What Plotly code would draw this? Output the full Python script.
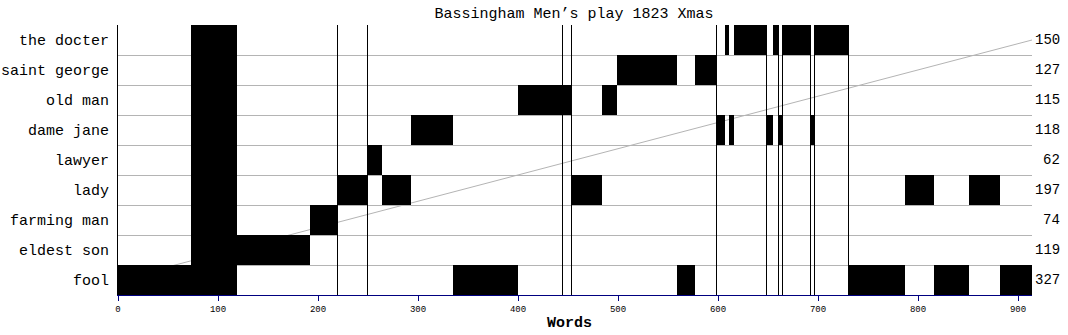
import plotly.graph_objects as go
import numpy as np

# Characters, bottom row first
characters = ["fool", "eldest son", "farming man", "lady", "lawyer",
              "dame jane", "old man", "saint george", "the docter"]
# Total words spoken per character (right-hand labels)
word_totals = [327, 119, 74, 197, 62, 118, 115, 127, 150]

# Sequence of speeches (speaker, length in words); "ALL" = everyone together
speech_speaker = ["fool", "ALL", "eldest son", "farming man", "lady", "lawyer",
                  "lady", "dame jane", "fool", "old man", "lady", "old man",
                  "saint george", "fool", "saint george", "dame jane", "the docter",
                  "dame jane", "the docter", "dame jane", "the docter", "dame jane",
                  "the docter", "dame jane", "the docter", "fool", "lady", "fool",
                  "lady", "fool"]
speech_words = [73, 46, 73, 27, 30, 15, 29, 42, 65, 53, 31, 15, 60, 18, 21, 9, 4,
                5, 32, 7, 5, 4, 28, 4, 34, 57, 29, 35, 31, 32]

# Scene breaks (word positions)
scene_breaks = [219, 249, 444, 453, 598, 648, 660, 664, 692, 696, 730]

title = "Bassingham Men\u2019s play 1823 Xmas"
FONT = "Liberation Mono"

starts = np.concatenate([[0], np.cumsum(speech_words)[:-1]])
total_words = int(np.sum(speech_words))

bar_y, bar_x, bar_base = [], [], []
for spk, st, ln in zip(speech_speaker, starts, speech_words):
    rows = range(len(characters)) if spk == "ALL" else [characters.index(spk)]
    for r in rows:
        bar_y.append(r)
        bar_x.append(ln)
        bar_base.append(st)

fig = go.Figure()

fig.add_trace(go.Bar(orientation="h", y=bar_y, x=bar_x, base=bar_base, width=1,
                     marker=dict(color="black", line=dict(width=0)),
                     hoverinfo="skip", showlegend=False))

# scene-break lines (centred in the word column so they render as crisp 1px lines)
vx, vy = [], []
for b in scene_breaks:
    vx += [b + 0.5, b + 0.5, None]
    vy += [-0.5, len(characters) - 0.5, None]
fig.add_trace(go.Scatter(x=vx, y=vy, mode="lines",
                         line=dict(color="black", width=1),
                         hoverinfo="skip", showlegend=False))

# diagonal reference line, under the bars
fig.add_shape(type="line", xref="x", yref="y", x0=0, y0=0,
              x1=total_words, y1=len(characters) - 1, layer="below",
              line=dict(color="#b4b4b4", width=1))

annotations = []
for i, t in enumerate(word_totals):
    annotations.append(dict(xref="paper", x=1, xanchor="right", xshift=30,
                            yref="y", y=i, yanchor="middle", text=str(t),
                            showarrow=False,
                            font=dict(family=FONT, size=14, color="black")))
annotations.append(dict(xref="paper", x=(569 - 118) / 914, xanchor="center",
                        yref="paper", y=0, yshift=-28, yanchor="middle",
                        text="<b>Words</b>", showarrow=False,
                        font=dict(family=FONT, size=15, color="black")))

fig.update_layout(
    width=1068, height=335,
    margin=dict(l=118, r=36, t=25, b=40, pad=0, autoexpand=False),
    paper_bgcolor="white", plot_bgcolor="white",
    title=dict(text=title, x=(574) / 1068, xanchor="center",
               y=1 - 13 / 335, yanchor="middle", yref="container",
               font=dict(family=FONT, size=15, color="black")),
    barmode="overlay",
    showlegend=False,
    annotations=annotations,
    xaxis=dict(range=[0, total_words], tickmode="linear", tick0=0, dtick=100,
               showgrid=False, zeroline=False, automargin=False,
               showline=True, linecolor="#000080", linewidth=1,
               ticks="outside", ticklen=5, tickcolor="#000080", tickwidth=1,
               tickfont=dict(family=FONT, size=9, color="black")),
    yaxis=dict(range=[-0.5, len(characters) - 0.5], automargin=False,
               tickmode="array", tickvals=list(range(len(characters))),
               ticktext=characters, showgrid=False, zeroline=False,
               showline=True, linecolor="black", linewidth=1, ticks="",
               ticklabelstandoff=5,
               tickfont=dict(family=FONT, size=15, color="black"),
               minor=dict(tickmode="linear", tick0=-0.5, dtick=1,
                          showgrid=True, gridcolor="#b4b4b4", gridwidth=1,
                          ticks="")),
)

fig.write_html("out.html")
